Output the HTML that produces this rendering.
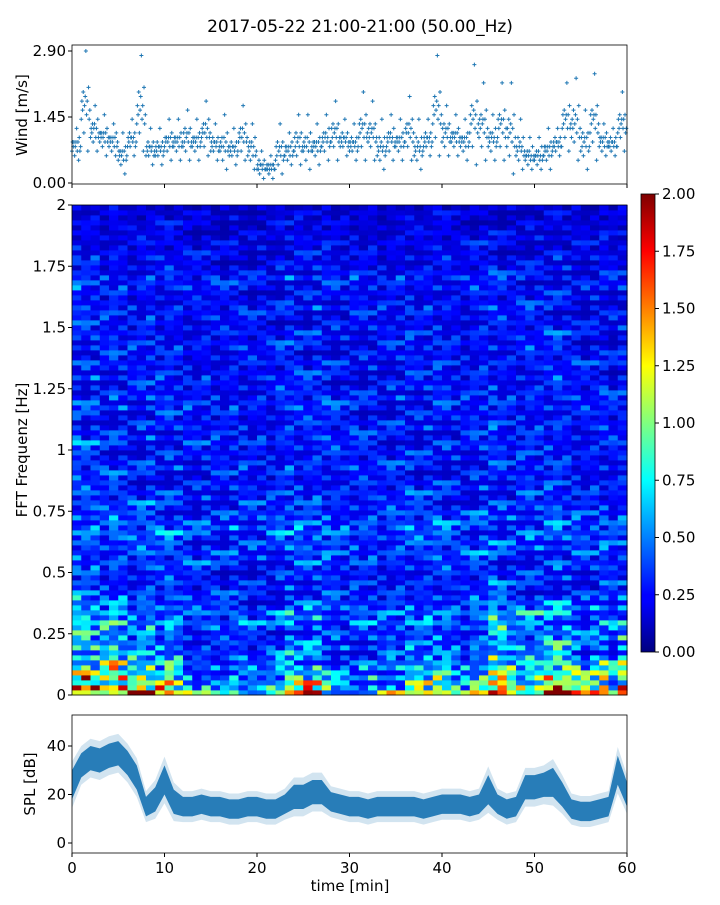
<!DOCTYPE html>
<html><head><meta charset="utf-8">
<style>
body{margin:0;background:#fff;font-family:"Liberation Sans","DejaVu Sans",sans-serif;}
svg text{font-family:"DejaVu Sans","Liberation Sans",sans-serif;}
</style></head>
<body>
<svg id="fig" xmlns="http://www.w3.org/2000/svg" width="720" height="900" viewBox="0 0 720 900">
<defs>
<linearGradient id="jetgrad" x1="0" y1="1" x2="0" y2="0">
<stop offset="0" stop-color="#00007f"/><stop offset="0.11" stop-color="#0000ff"/><stop offset="0.125" stop-color="#0000ff"/>
<stop offset="0.375" stop-color="#00ffff"/><stop offset="0.625" stop-color="#ffff00"/><stop offset="0.875" stop-color="#ff0000"/><stop offset="1" stop-color="#7f0000"/>
</linearGradient>
</defs>
<text x="360" y="32" font-size="17" text-anchor="middle">2017-05-22 21:00-21:00 (50.00_Hz)</text>
<g id="wind"></g>
<g id="spec"></g>
<g id="cbar"></g>
<g id="spl"></g>
</svg>
<script>
const windLo=[0.5,0.7,0.7,0.6,0.6,0.2,0.6,0.7,0.4,0.4,0.5,0.5,0.5,0.5,0.6,0.5,0.3,0.4,0.5,0.3,0.1,0.1,0.2,0.4,0.4,0.3,0.4,0.5,0.5,0.6,0.5,0.5,0.5,0.3,0.5,0.5,0.5,0.3,0.6,0.6,0.6,0.6,0.5,0.4,0.5,0.5,0.5,0.2,0.3,0.3,0.3,0.3,0.6,0.7,0.5,0.3,0.5,0.6,0.6,0.7];
const windHi=[1.2,2.9,1.7,1.5,1.3,1.1,1.4,2.8,1.2,1.2,1.4,1.4,1.6,1.4,1.8,1.3,1.5,1.2,1.7,1.3,0.7,0.6,1.3,1.1,1.5,1.5,1.3,1.5,1.8,1.4,1.3,2.0,1.8,1.4,1.5,1.4,1.9,1.4,1.4,2.8,1.7,1.5,1.4,2.6,2.2,1.5,2.2,2.2,1.4,1.0,1.0,1.2,1.2,2.2,2.3,1.6,2.4,1.3,1.2,2.0];
const windFrac=[0.3,0.5,0.4,0.6,0.2,0.45,0.55,1.0,0.35,0.5,0.0,0.65,0.3,0.4];
const windTicks=[0,1.45,2.9];
const freqLevel=[1.3,0.9,0.75,0.7,0.6,0.65,0.55,0.5,0.42,0.45,0.4,0.42,0.4,0.45,0.5,0.42,0.5,0.42,0.4,0.36,0.33,0.3,0.32,0.3,0.31,0.33,0.36,0.33,0.38,0.36,0.4,0.38,0.42,0.4,0.38,0.36,0.38,0.33,0.35,0.3,0.32,0.3,0.31,0.28,0.3,0.32,0.3,0.28,0.31,0.3,0.33,0.3,0.28,0.3,0.31,0.28,0.3,0.32,0.3,0.31,0.28,0.3,0.28,0.3,0.27,0.26,0.3,0.28,0.27,0.3,0.28,0.26,0.3,0.27,0.26,0.28,0.27,0.3,0.26,0.25,0.27,0.3,0.28,0.32,0.26,0.25,0.23,0.25,0.23,0.21,0.23,0.21,0.22,0.19,0.2,0.18,0.18,0.16];
const timeLevel=[1.2,1.1,1.15,1.0,1.1,1.05,0.95,1.0,1.1,1.0,1.05,1.0,0.95,0.9,1.0,0.95,0.9,1.0,0.95,0.9,0.95,0.9,1.0,1.1,1.05,1.0,1.1,1.05,1.0,0.95,1.0,0.95,1.0,0.9,0.95,1.0,1.05,0.95,1.0,1.05,1.0,0.95,0.9,1.0,1.05,1.1,1.0,0.95,1.0,1.05,1.0,1.05,1.1,1.0,0.95,0.9,0.95,1.0,0.9,1.0];
const lowBoost=[1.4,1.5,1.3,1.4,1.5,1.4,1.2,1.3,1.2,1.1,1.3,1.1,0.8,0.7,0.7,0.8,0.7,0.8,0.8,0.7,0.7,0.8,0.9,1.1,1.0,1.2,1.1,0.9,0.8,0.8,0.7,0.8,0.8,0.8,0.9,0.8,0.9,1.0,1.1,1.0,1.1,0.9,0.9,1.0,0.9,1.7,1.6,1.3,1.1,1.0,1.2,1.3,1.4,1.5,1.2,1.1,1.2,1.4,1.1,1.5];
const texture=[0.5,1.3,0.8,1.6,0.6,1.0,0.4,1.2,0.9,1.8,0.7,0.5,1.1,1.4,0.6,0.9,1.5,0.45,1.0,0.8,1.3,0.55,1.7,0.75,1.0,0.5,1.2,0.65,1.4,0.85,1.1];
const specTicks=[0,0.25,0.5,0.75,1,1.25,1.5,1.75,2];
const specTickLabels=["0","0.25","0.5","0.75","1","1.25","1.5","1.75","2"];
const cbarTicks=[0,0.25,0.5,0.75,1,1.25,1.5,1.75,2];
const splMean=[24,32,35,34,36,37,33,27,15,18,26,17,15,15,16,15,15,14,14,15,15,14,14,16,19,19,21,21,17,16,15,15,14,15,15,15,15,15,14,15,16,16,16,15,16,22,16,14,15,23,23,24,25,20,14,13,13,14,15,30,20];
const splSpread=[6,5,5,5,5,5,5,5,4,5,6,5,4,4,4,4,4,4,4,4,4,4,4,4,5,5,5,5,4,4,4,4,4,4,4,4,4,4,4,4,4,4,4,4,4,6,4,4,4,5,5,5,6,5,4,4,4,4,4,6,5];
const splTicks=[0,20,40];
const timeTicks=[0,10,20,30,40,50,60];

const NS="http://www.w3.org/2000/svg";
function mk(parent,tag,attrs,txt){const e=document.createElementNS(NS,tag);for(const k in attrs)e.setAttribute(k,attrs[k]);if(txt!==undefined)e.textContent=txt;parent.appendChild(e);return e;}
const X0=72,X1=627;
const xT=t=>X0+(t/60)*(X1-X0);
const jet=v=>{const x=Math.max(0,Math.min(1,v));const c=a=>Math.round(255*Math.max(0,Math.min(1,1.5-Math.abs(4*x-a))));return `rgb(${c(3)},${c(2)},${c(1)})`;};

// Wind panel
const wg=document.getElementById('wind');
const WY0=184,WY1=45; const yW=v=>183-(v/2.9)*(183-51);
for(let m=0;m<windLo.length;m++){
  for(let k=0;k<windFrac.length;k++){
    const v=Math.round((windLo[m]+windFrac[k]*(windHi[m]-windLo[m]))*10)/10;
    const x=xT(m+k/windFrac.length), y=yW(v);
    const p=mk(wg,'path',{d:`M${x-2} ${y}h4M${x} ${y-2}v4`,stroke:'#1f77b4','stroke-width':1});
    
    
  }
}
let r=mk(wg,'rect',{x:X0,y:WY1,width:X1-X0,height:WY0-WY1,fill:'none',stroke:'#000','stroke-width':0.8});

windTicks.forEach(v=>{const y=yW(v);mk(wg,'line',{x1:X0-4,x2:X0,y1:y,y2:y,stroke:'#000'});
 const t=mk(wg,'text',{x:X0-6,y:y+5,'font-size':15,'text-anchor':'end'},v.toFixed(2));});
timeTicks.forEach(v=>{const x=xT(v);mk(wg,'line',{x1:x,x2:x,y1:WY0,y2:WY0+4,stroke:'#000'});});
let lab=mk(wg,'text',{x:27,y:115,'font-size':15,'text-anchor':'middle',transform:'rotate(-90 27 115)'},'Wind [m/s]');


// Spectrogram
const sg=document.getElementById('spec');
const SY0=695,SY1=205;const yF=f=>SY0-(f/2)*(SY0-SY1);
const nR=freqLevel.length,nC=timeLevel.length;const rowH=(SY0-SY1)/nR;
for(let rI=0;rI<nR;rI++){
  const w=Math.max(0,1-rI/25);
  for(let c=0;c<nC;c++){
    const tex=texture[(rI*7+Math.floor(c/3)*11+c%3*(rI%2))%texture.length];
    const v=freqLevel[rI]*timeLevel[c]*(1+(lowBoost[c]-1)*w*1.3)*tex;
    const cell=mk(sg,'rect',{x:xT(c),y:SY0-(rI+1)*rowH,width:(X1-X0)/nC+0.6,height:rowH+0.4,fill:jet(v/2)});
    
    
  }
}
r=mk(sg,'rect',{x:X0,y:SY1,width:X1-X0,height:SY0-SY1,fill:'none',stroke:'#000','stroke-width':0.8});

specTicks.forEach((v,i)=>{const y=yF(v);mk(sg,'line',{x1:X0-4,x2:X0,y1:y,y2:y,stroke:'#000'});
 const t=mk(sg,'text',{x:X0-6,y:y+5,'font-size':15,'text-anchor':'end'},specTickLabels[i]);});
lab=mk(sg,'text',{x:27,y:450,'font-size':15,'text-anchor':'middle',transform:'rotate(-90 27 450)'},'FFT Frequenz [Hz]');


// Colorbar
const cg=document.getElementById('cbar');
const CY0=652,CY1=194,CX=641,CW=14;const yC=v=>CY0-(v/2)*(CY0-CY1);
r=mk(cg,'rect',{x:CX,y:CY1,width:CW,height:CY0-CY1,fill:'url(#jetgrad)',stroke:'#000','stroke-width':0.8});

cbarTicks.forEach(v=>{const y=yC(v);mk(cg,'line',{x1:CX+CW,x2:CX+CW+4,y1:y,y2:y,stroke:'#000'});
 const t=mk(cg,'text',{x:CX+CW+7,y:y+5,'font-size':15},v.toFixed(2));});

// SPL panel
const pg=document.getElementById('spl');
const PY0=853,PY1=715;const yS=v=>843-(v/40)*(843-746);
function band(k,fill,op,name){
  let up=[],dn=[];
  for(let i=0;i<splMean.length;i++){up.push(`${xT(i)},${yS(splMean[i]+splSpread[i]*k)}`);dn.unshift(`${xT(i)},${yS(splMean[i]-splSpread[i]*k)}`);}
  const p=mk(pg,'polygon',{points:up.concat(dn).join(' '),fill:fill,'fill-opacity':op});
  
}
band(1.6,'#1f77b4',0.2,'spl-outer-band');
band(1.0,'#1f77b4',0.95,'spl-inner-band');
r=mk(pg,'rect',{x:X0,y:PY1,width:X1-X0,height:PY0-PY1,fill:'none',stroke:'#000','stroke-width':0.8});

splTicks.forEach(v=>{const y=yS(v);mk(pg,'line',{x1:X0-4,x2:X0,y1:y,y2:y,stroke:'#000'});
 const t=mk(pg,'text',{x:X0-6,y:y+5,'font-size':15,'text-anchor':'end'},v);});
timeTicks.forEach(v=>{const x=xT(v);mk(pg,'line',{x1:x,x2:x,y1:PY0,y2:PY0+4,stroke:'#000'});
 const t=mk(pg,'text',{x:x,y:PY0+20,'font-size':15,'text-anchor':'middle'},v);});
lab=mk(pg,'text',{x:35,y:784,'font-size':15,'text-anchor':'middle',transform:'rotate(-90 35 784)'},'SPL [dB]');

lab=mk(pg,'text',{x:350,y:891,'font-size':15,'text-anchor':'middle'},'time [min]');

</script>
</body></html>
